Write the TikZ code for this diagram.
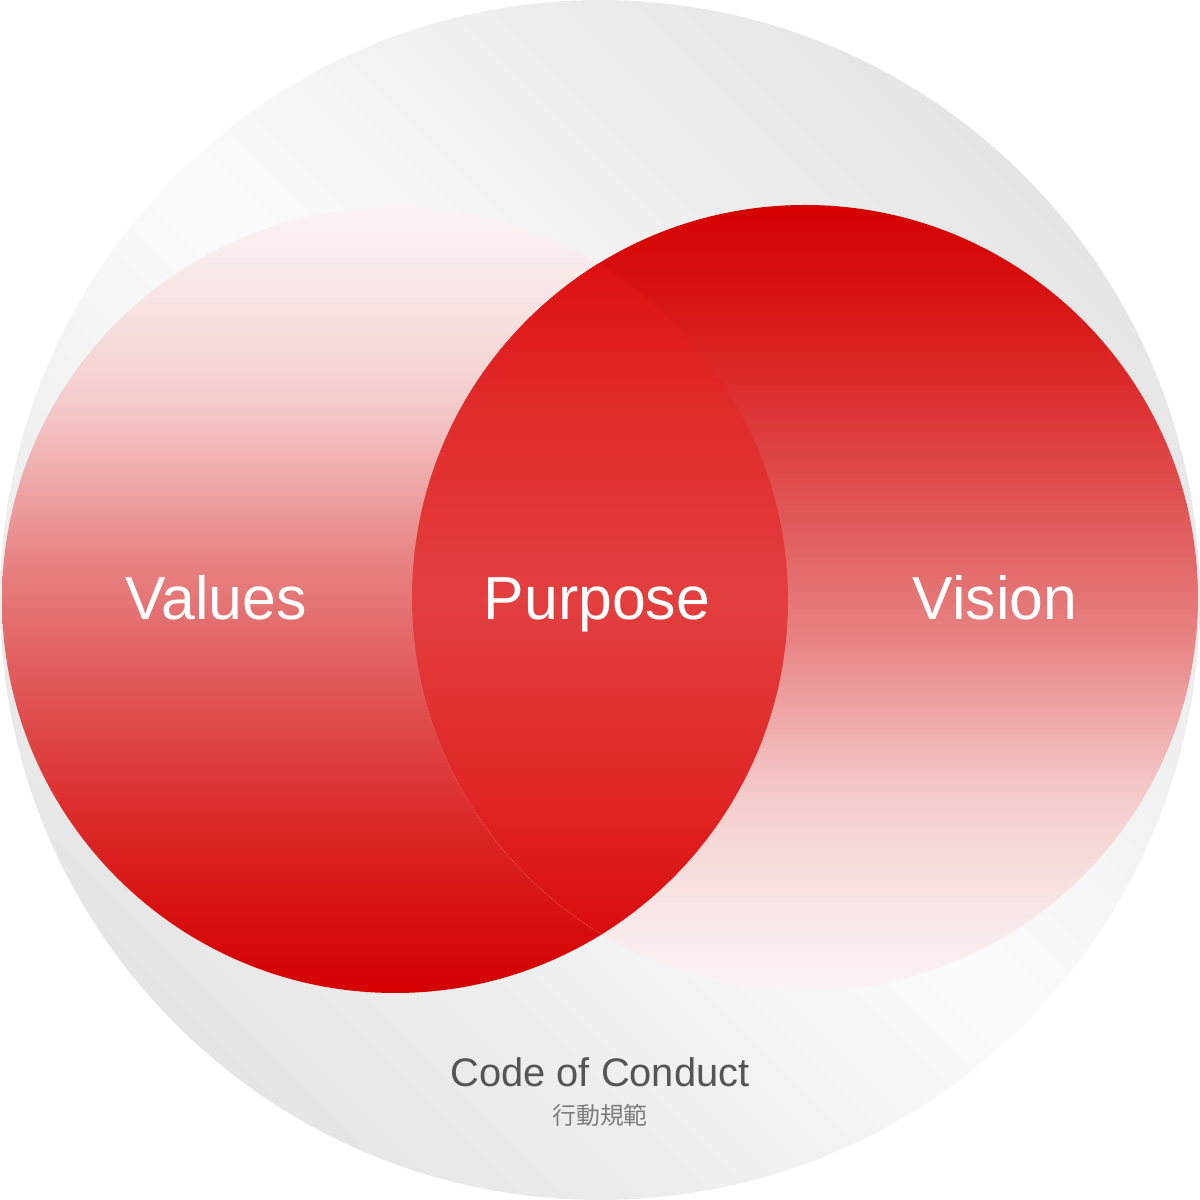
\documentclass[tikz,border=0pt]{standalone}
\usepackage{fontspec}
\setmainfont{Liberation Sans}
\newfontfamily\cjk{Noto Sans CJK JP}
\pgfdeclareverticalshading{valshade}{100bp}{%
 rgb(0bp)=(0.835,0,0); rgb(25bp)=(0.835,0,0);
 rgb(31bp)=(0.847,0.078,0.078); rgb(37.3bp)=(0.863,0.188,0.188);
 rgb(43.6bp)=(0.878,0.322,0.322); rgb(50bp)=(0.898,0.459,0.459);
 rgb(52.5bp)=(0.910,0.510,0.510); rgb(57.6bp)=(0.937,0.659,0.659);
 rgb(62.7bp)=(0.957,0.8,0.8); rgb(69.1bp)=(0.973,0.894,0.894);
 rgb(75bp)=(0.984,0.957,0.957); rgb(100bp)=(0.984,0.957,0.957)}
\pgfdeclareverticalshading{visshade}{100bp}{%
 rgb(0bp)=(0.984,0.957,0.957); rgb(25bp)=(0.984,0.957,0.957);
 rgb(30.9bp)=(0.973,0.894,0.894); rgb(37.3bp)=(0.957,0.8,0.8);
 rgb(42.4bp)=(0.937,0.659,0.659); rgb(47.5bp)=(0.910,0.510,0.510);
 rgb(50bp)=(0.898,0.459,0.459); rgb(56.4bp)=(0.878,0.322,0.322);
 rgb(62.7bp)=(0.863,0.188,0.188); rgb(69bp)=(0.847,0.078,0.078);
 rgb(75bp)=(0.835,0,0); rgb(100bp)=(0.835,0,0)}
\pgfdeclareverticalshading{purshade}{100bp}{%
 rgb(0bp)=(0.859,0.04,0.04); rgb(25bp)=(0.859,0.04,0.04);
 rgb(28.9bp)=(0.859,0.051,0.051); rgb(37.1bp)=(0.875,0.145,0.145);
 rgb(49.9bp)=(0.890,0.247,0.247); rgb(62.6bp)=(0.878,0.165,0.165);
 rgb(71.2bp)=(0.867,0.059,0.059); rgb(75bp)=(0.863,0.04,0.04);
 rgb(100bp)=(0.863,0.04,0.04)}
\definecolor{bgdark}{RGB}{229,229,229}
\definecolor{bglight}{RGB}{251,251,251}
\definecolor{codegrey}{RGB}{85,85,85}
\definecolor{jpgrey}{RGB}{125,125,125}
\tikzset{
  biglabel/.style={text=white, anchor=base, inner sep=0pt, font=\fontsize{61}{62}\selectfont},
  codelabel/.style={text=codegrey, anchor=base, inner sep=0pt, font=\fontsize{40}{42}\selectfont},
  jplabel/.style={text=jpgrey, anchor=center, inner sep=0pt, font=\cjk\fontsize{24}{26}\selectfont}
}
\begin{document}
\begin{tikzpicture}[x=1bp,y=1bp]
\useasboundingbox (0,0) rectangle (1200,1200);
% big background circle
\shade[top color=bgdark, bottom color=bgdark, middle color=bglight, shading angle=-45]
  (600,600) circle (600);
% Values circle
\shade[shading=valshade] (395,600) circle (393);
% Vision circle
\shade[shading=visshade] (805,602) circle (393);
% overlap (Purpose)
\begin{scope}
  \clip (395,600) circle (393);
  \shade[shading=purshade] (805,602) circle (393);
\end{scope}
\node[biglabel] (values) at (216,580) {Values};
\node[biglabel] (purpose) at (597,580) {Purpose};
\node[biglabel] (vision) at (995,580) {Vision};
\node[codelabel] (code) at (600,113) {Code of Conduct};
\node[jplabel] (codejp) at (600,85) {行動規範};
\end{tikzpicture}
\end{document}
